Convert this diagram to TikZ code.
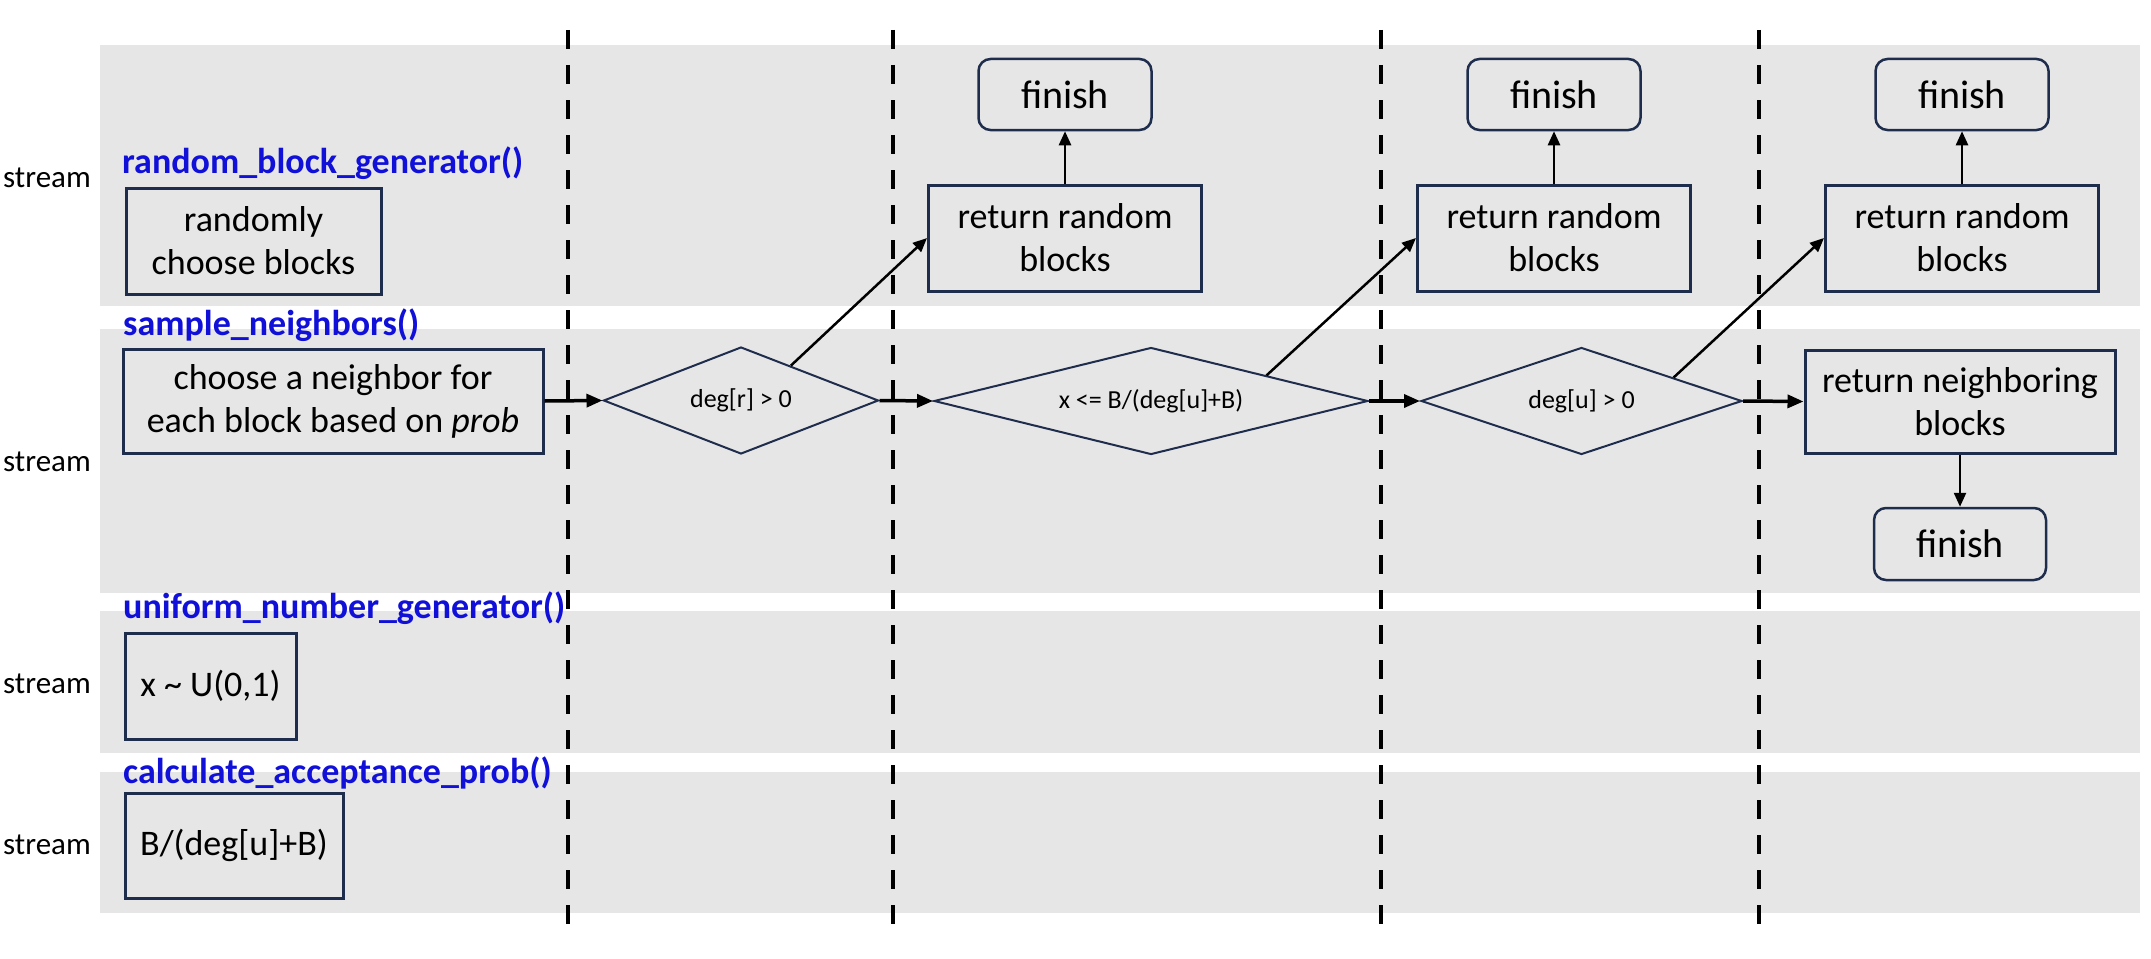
\documentclass[tikz,border=0pt]{standalone}
\usepackage{fontspec}
\setmainfont{Carlito}
\usetikzlibrary{shapes.geometric,arrows.meta,calc}
\definecolor{lanegray}{RGB}{231,230,230}
\definecolor{boxline}{RGB}{31,45,77}
\definecolor{fnblue}{RGB}{16,16,216}
\begin{document}
\begin{tikzpicture}[x=1pt,y=-1pt,
  sep/.style={line width=4.5pt,dash pattern=on 19pt off 16pt},
  box/.style={draw=boxline,line width=3pt,rectangle,align=center,inner sep=0pt,font=\fontsize{36}{43}\selectfont},
  finbox/.style={draw=boxline,line width=2.5pt,rounded corners=12pt,inner sep=0pt,font=\fontsize{40}{48}\selectfont},
  dec/.style={draw=boxline,line width=2pt,shape=diamond,inner sep=0pt,font=\fontsize{26}{31}\selectfont},
  fn/.style={anchor=west,text=fnblue,font=\fontsize{36}{43}\selectfont\bfseries,inner sep=0pt},
  streamlbl/.style={anchor=west,font=\fontsize{31}{37}\selectfont,inner sep=0pt},
  flow/.style={line width=3.5pt,-{Triangle[length=16pt,width=13pt]}},
  up/.style={line width=2.5pt,-{Triangle[length=14pt,width=12pt]}},
]
\useasboundingbox (0,0) rectangle (2151,958);
% lanes
\fill[lanegray] (100,45) rectangle (2140,306);
\fill[lanegray] (100,329) rectangle (2140,593);
\fill[lanegray] (100,611) rectangle (2140,753);
\fill[lanegray] (100,772) rectangle (2140,913);
% separators
\foreach \x in {568,893,1381,1759} \draw[sep] (\x,30) -- (\x,934);
% stream labels
\node[streamlbl] (s1) at (3,178) {stream};
\node[streamlbl] (s2) at (3,462) {stream};
\node[streamlbl] (s3) at (3,684) {stream};
\node[streamlbl] (s4) at (3,845) {stream};
% function labels
\node[fn] (f1) at (122,163) {random\_block\_generator()};
\node[fn] (f2) at (123,325) {sample\_neighbors()};
\node[fn] (f3) at (123,608) {uniform\_number\_generator()};
\node[fn] (f4) at (123,773) {calculate\_acceptance\_prob()};
% first column boxes
\node[box,minimum width=255pt,minimum height=106pt] (rand) at (253.5,241) {randomly\\choose blocks};
\node[box,minimum width=420pt,minimum height=104pt] (choose) at (333,401) {choose a neighbor for\\each block based on \textit{prob}};
\node[box,minimum width=171pt,minimum height=106pt] (unif) at (210.5,686) {x \textasciitilde{} U(0,1)};
\node[box,minimum width=218pt,minimum height=105pt] (acc) at (234,845.5) {B/(deg[u]+B)};
% decisions
\node[dec,minimum width=275pt,minimum height=107pt,aspect=2.57] (d1) at (741,400.5) {deg[r] > 0};
\node[dec,minimum width=434pt,minimum height=107pt,aspect=4.06] (d2) at (1151,401) {x <= B/(deg[u]+B)};
\node[dec,minimum width=321pt,minimum height=107pt,aspect=3] (d3) at (1581.5,401) {deg[u] > 0};
% return boxes
\node[box,minimum width=273pt,minimum height=106pt] (ret1) at (1065,238) {return random\\blocks};
\node[finbox,minimum width=173pt,minimum height=71pt] (fin1) at (1065,94.5) {finish};
\node[box,minimum width=273pt,minimum height=106pt] (ret2) at (1554,238) {return random\\blocks};
\node[finbox,minimum width=173pt,minimum height=71pt] (fin2) at (1554,94.5) {finish};
\node[box,minimum width=273pt,minimum height=106pt] (ret3) at (1962,238) {return random\\blocks};
\node[finbox,minimum width=173pt,minimum height=71pt] (fin3) at (1962,94.5) {finish};
\node[box,minimum width=310pt,minimum height=103pt] (retn) at (1960,401.5) {return neighboring\\blocks};
\node[finbox,minimum width=172pt,minimum height=72pt] (fin4) at (1960,544) {finish};
% connectors
\draw[flow] (choose.east) -- (d1.west);
\draw[flow] (d1.east) -- (d2.west);
\draw[flow] (d2.east) -- (d3.west);
\draw[flow] (d3.east) -- (retn.west);
\draw[up] ($(d1.north)!0.36!(d1.east)$) -- (ret1.west);
\draw[up] ($(d2.north)!0.53!(d2.east)$) -- (ret2.west);
\draw[up] ($(d3.north)!0.57!(d3.east)$) -- (ret3.west);
\draw[up] (ret1.north) -- (fin1.south);
\draw[up] (ret2.north) -- (fin2.south);
\draw[up] (ret3.north) -- (fin3.south);
\draw[up] (retn.south) -- (fin4.north);
\end{tikzpicture}
\end{document}
